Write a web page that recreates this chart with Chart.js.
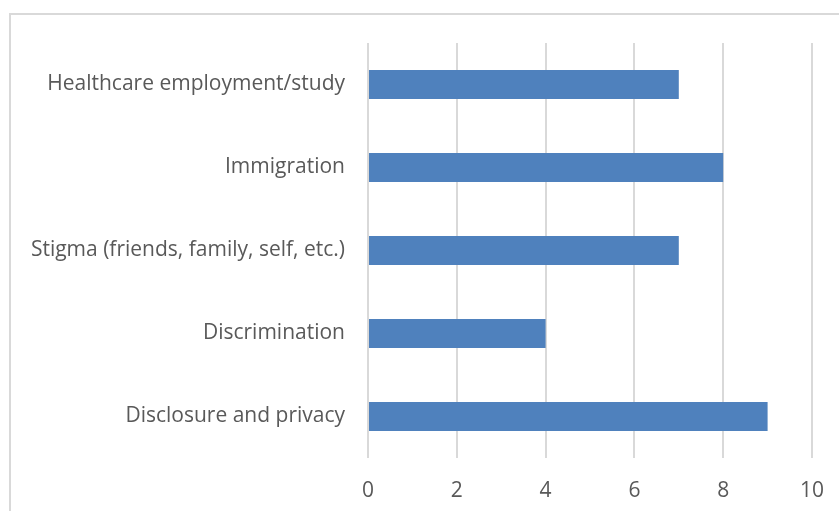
<!DOCTYPE html>
<html>
<head>
<meta charset="utf-8">
<script src="https://cdn.jsdelivr.net/npm/chart.js@4/dist/chart.umd.min.js"></script>
<style>
html,body{margin:0;padding:0;background:#fff;}
#wrap{position:relative;width:839px;height:511px;}
</style>
</head>
<body>
<div id="wrap"><canvas id="c" width="839" height="511"></canvas></div>
<script>
const categories = ["Healthcare employment/study","Immigration","Stigma (friends, family, self, etc.)","Discrimination","Disclosure and privacy"];
const values = [7, 8, 7, 4, 9];
const xTicks = [0, 2, 4, 6, 8, 10];

const frame = {
  id: 'frame',
  beforeDraw(chart) {
    const ctx = chart.ctx;
    ctx.save();
    ctx.strokeStyle = '#D9D9D9';
    ctx.lineWidth = 2;
    ctx.strokeRect(10, 14, 840, 520);
    ctx.restore();
  }
};

const font = {family: "'Open Sans', sans-serif", size: 21};
new Chart(document.getElementById('c'), {
  type: 'bar',
  data: {
    labels: categories,
    datasets: [{data: values, backgroundColor: '#4F81BD', borderWidth: 0, barPercentage: 0.35, categoryPercentage: 1}]
  },
  options: {
    indexAxis: 'y',
    responsive: false,
    animation: false,
    layout: {padding: {top: 43, right: 27, bottom: 0, left: 0}},
    plugins: {legend: {display: false}, tooltip: {enabled: false}},
    scales: {
      x: {
        min: 0, max: 10,
        afterBuildTicks(s) { s.ticks = xTicks.map(v => ({value: v})); },
        afterFit(s) { s.height = 53; s.paddingLeft = 0; s.paddingRight = 0; },
        grid: {color: '#D9D9D9', lineWidth: 2, drawTicks: false},
        border: {display: false},
        ticks: {color: '#595959', font: font, padding: 20}
      },
      y: {
        afterFit(s) { s.width = 368; s.paddingTop = 0; s.paddingBottom = 0; },
        grid: {display: false, drawTicks: false},
        border: {display: false},
        ticks: {color: '#595959', font: font, padding: 23}
      }
    }
  },
  plugins: [frame]
});
</script>
</body>
</html>
